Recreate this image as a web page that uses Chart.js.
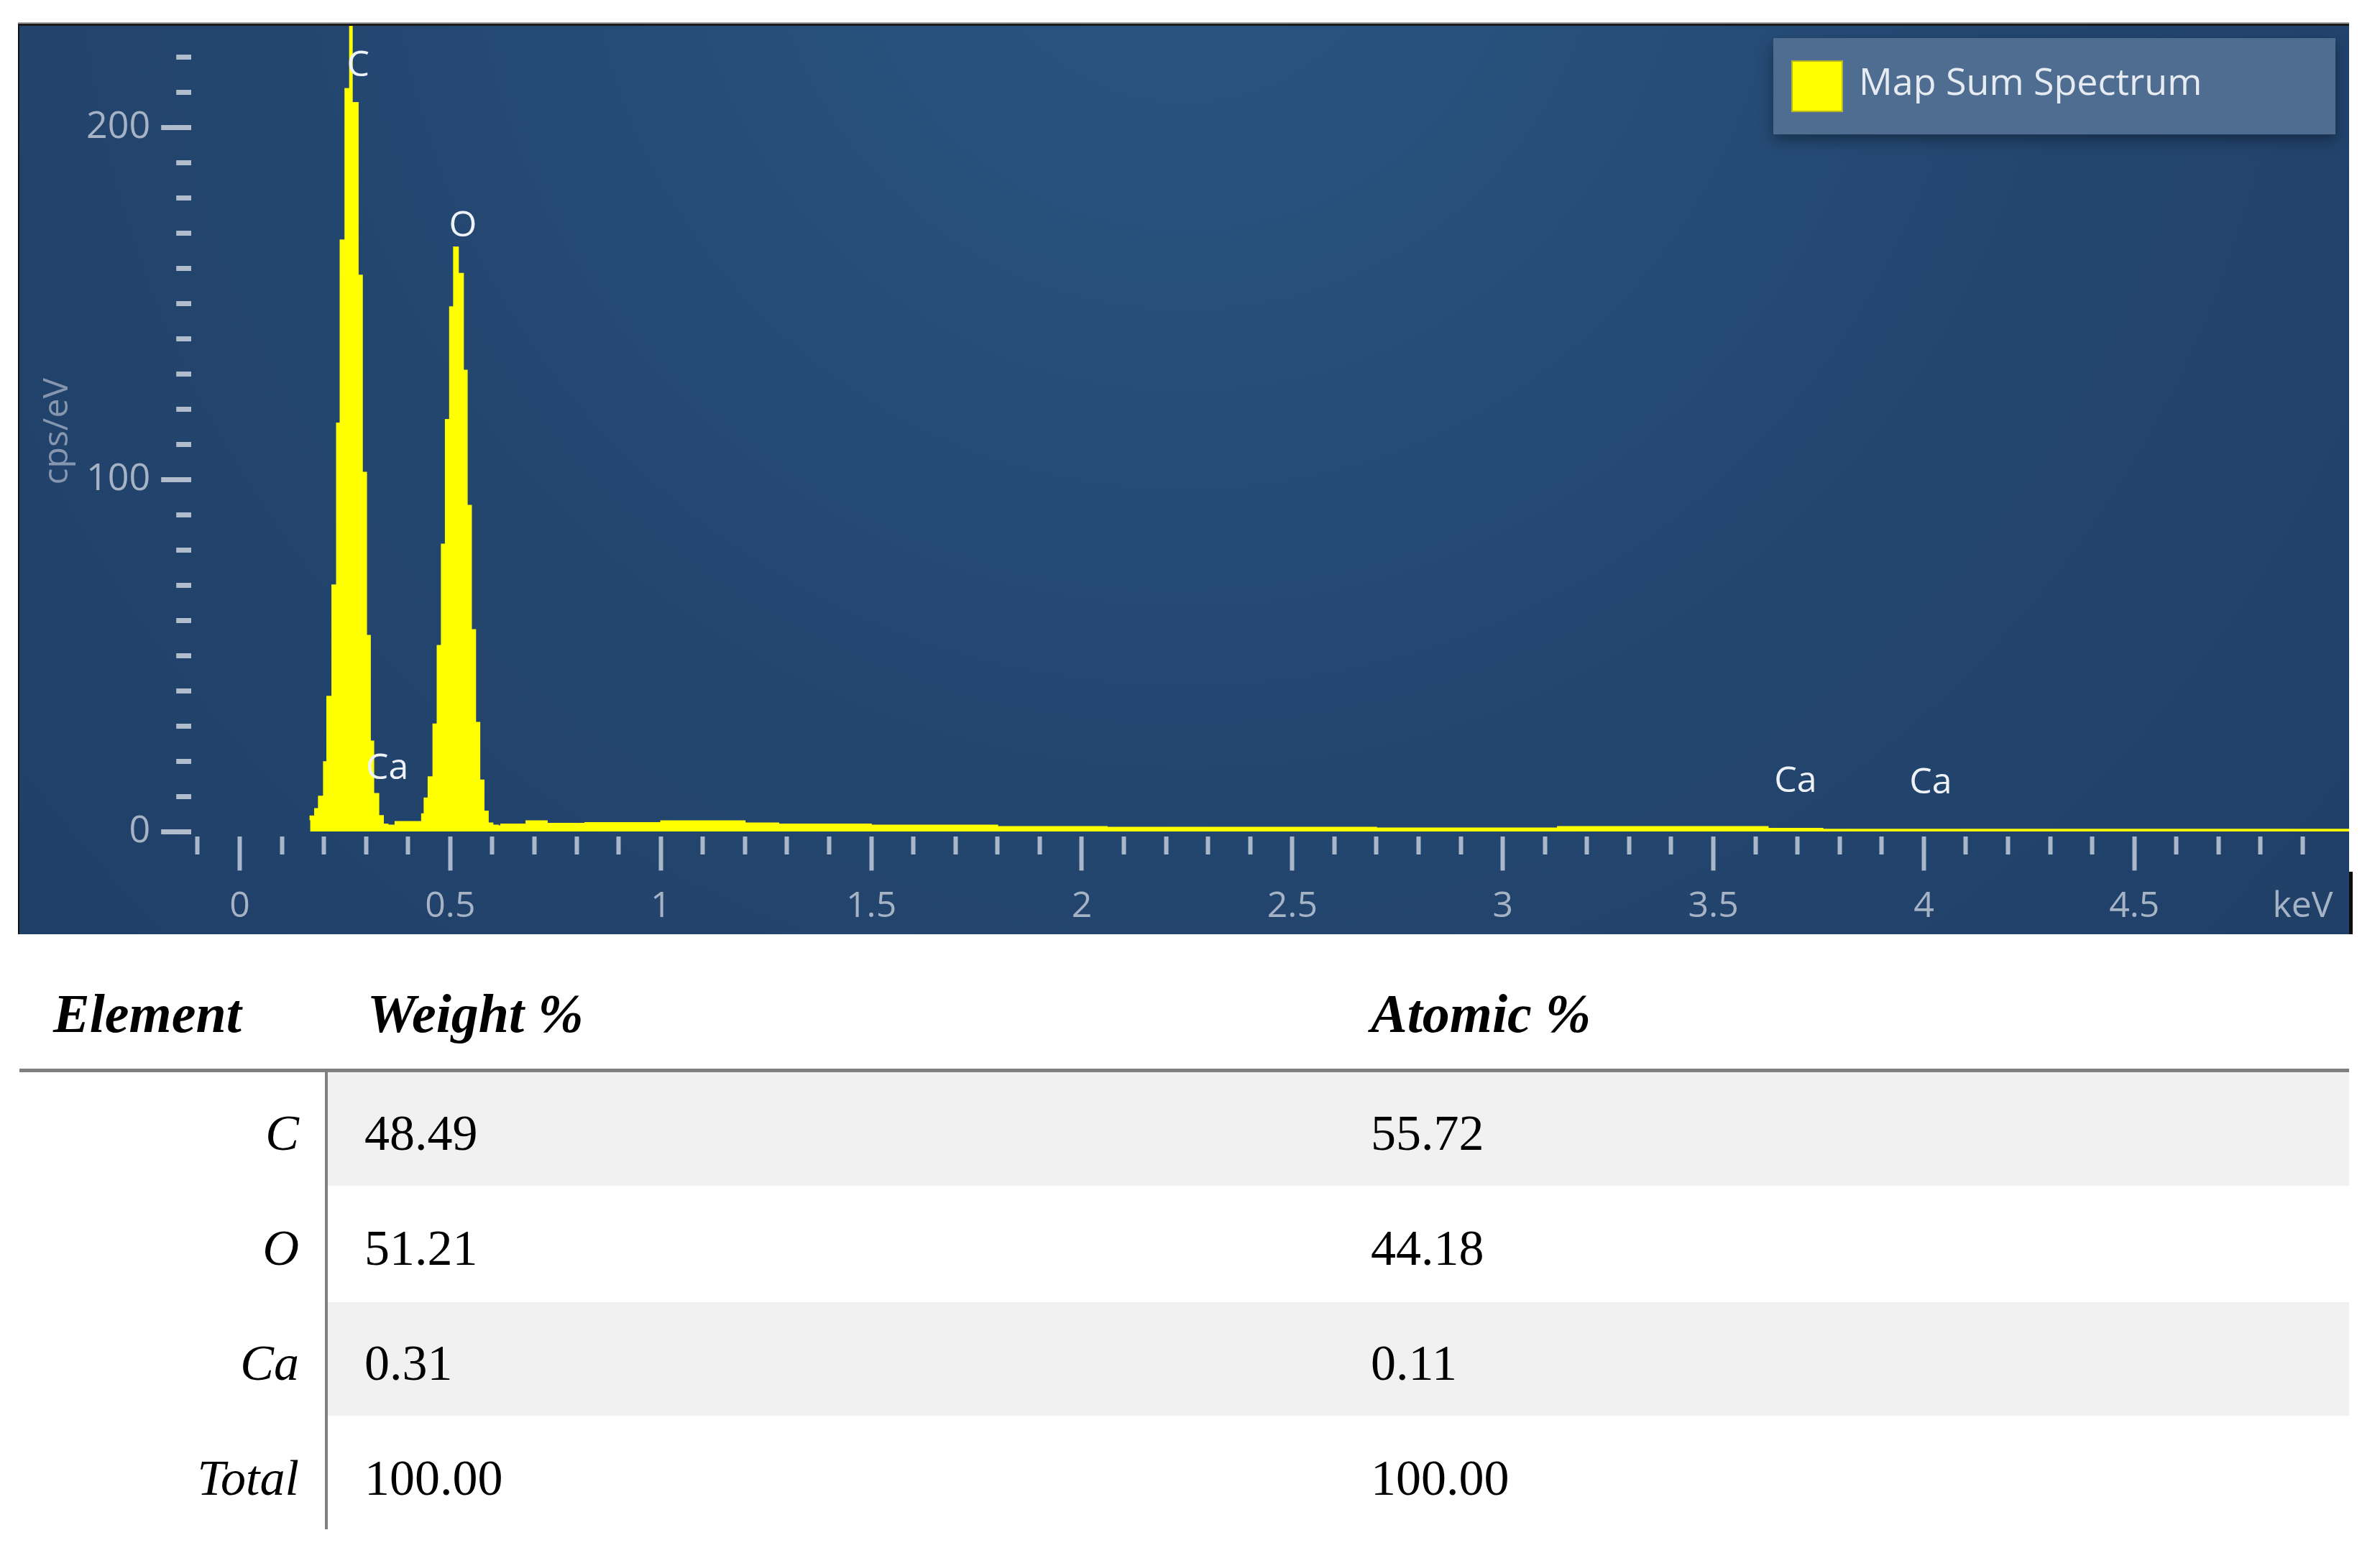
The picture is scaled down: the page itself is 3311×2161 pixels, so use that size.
<!DOCTYPE html>
<html>
<head>
<meta charset="utf-8">
<script src="https://cdn.jsdelivr.net/npm/chart.js@4.4.1/dist/chart.umd.min.js"></script>
<style>
  html, body { margin: 0; padding: 0; background: #fff; }
  body { width: 3311px; height: 2161px; position: relative; overflow: hidden; }
  #panel { position: absolute; left: 25px; top: 31px; border-top: 2px solid #9a9a9a; }
  #panel-inner { border-top: 3px solid #1b1b1b; border-left: 2px solid #111; }
  #edge { position: absolute; left: 3268px; top: 1213px; width: 5px; height: 87px; background: #0d0d0d; }
  canvas { display: block; }
  .cell { position: absolute; font-family: "Liberation Serif", "DejaVu Serif", serif; color: #000;
          white-space: nowrap; height: 100px; line-height: 100px; font-size: 70px; }
  .head { font-weight: bold; font-style: italic; font-size: 76px; }
  .rowname { font-style: italic; text-align: right; }
  .rule { position: absolute; background: #808080; }
  .shade { position: absolute; background: #f1f1f1; }
</style>
</head>
<body>
<div id="panel"><div id="panel-inner"><canvas id="spectrum" width="3241" height="1264"></canvas></div></div>
<div id="edge"></div>
<div id="table"></div>
<script>
// spectrum channels (left edge in keV) and counts (cps/eV)
const spectrumKeV = [
  0.167, 0.178, 0.187, 0.199, 0.207, 0.219, 0.230, 0.2385, 0.250, 0.261, 0.267, 0.281,
  0.291, 0.301, 0.310, 0.318, 0.330, 0.341, 0.352, 0.369, 0.432, 0.438, 0.4475, 0.459,
  0.469, 0.479, 0.4885, 0.4985, 0.508, 0.519, 0.531, 0.540, 0.550, 0.560, 0.570, 0.580,
  0.590, 0.601, 0.614, 0.62, 0.68, 0.73, 0.82, 1.00, 1.20, 1.28, 1.50, 1.80, 2.06, 2.70,
  3.13, 3.63, 3.76, 4.04, 5.01
];
const spectrumCps = [
  3.2, 4.4, 6.5, 10, 19.8, 38.4, 70, 116, 168, 211, 242, 207,
  158, 102, 55.7, 25.7, 10.8, 4.5, 2.1, 1.8, 2.8, 5.0, 9.5, 15.5,
  30.5, 52.8, 81.6, 117, 149, 166, 158.5, 131, 92.6, 57.3, 31, 14.6,
  5.8, 2.4, 1.8, 1.6, 2.1, 3.0, 2.3, 2.5, 3.0, 2.4, 2.1, 1.8, 1.4, 1.2,
  1.0, 1.4, 0.9, 0.6, 0.6
];

const peakLabels = ['C', 'O', 'Ca', 'Ca', 'Ca'];
const peakLabelKeV = [0.281, 0.530, 0.350, 3.695, 4.016];
const peakLabelCps = [217.5, 172, 17.8, 14.2, 13.8];

const xMajorTicks = [0, 0.5, 1, 1.5, 2, 2.5, 3, 3.5, 4, 4.5];
const xUnitTick = 4.9;
const xUnitLabel = 'keV';
const yMajorTicks = [0, 100, 200];

const xMin = -0.115, xMax = 5.01;
const yMin = -1.5, yMax = 228.8;

const xTickValues = [];
for (let i = -1; i <= 49; i++) xTickValues.push(Math.round(i) / 10);
const yTickValues = [];
for (let i = 0; i <= 22; i++) yTickValues.push(i * 10);

// table under the spectrum
const tableHeaders = ['Element', 'Weight %', 'Atomic %'];
const elements = ['C', 'O', 'Ca', 'Total'];
const weightPct = ['48.49', '51.21', '0.31', '100.00'];
const atomicPct = ['55.72', '44.18', '0.11', '100.00'];

function isMajorX(v) {
  return xMajorTicks.some(m => Math.abs(m - v) < 1e-6);
}

Chart.defaults.font.family = '"Open Sans", "Noto Sans", sans-serif';

const panelBackground = {
  id: 'panelBackground',
  beforeDraw(chart) {
    const c = chart.ctx, w = chart.width, h = chart.height;
    const g = c.createRadialGradient(w * 0.5, -h * 0.15, 40, w * 0.5, -h * 0.15, w * 0.75);
    g.addColorStop(0, '#2a5683');
    g.addColorStop(0.5, '#23466f');
    g.addColorStop(1, '#1f3e66');
    c.save();
    c.fillStyle = g;
    c.fillRect(0, 0, w, h);
    c.restore();
  }
};

const peakNames = {
  id: 'peakNames',
  afterDatasetsDraw(chart) {
    const c = chart.ctx, xs = chart.scales.x, ys = chart.scales.y;
    c.save();
    c.font = '50px "Open Sans"';
    c.fillStyle = '#eef2f7';
    c.textAlign = 'center';
    c.textBaseline = 'middle';
    peakLabels.forEach((name, i) => {
      c.fillText(name, xs.getPixelForValue(peakLabelKeV[i]), ys.getPixelForValue(peakLabelCps[i]));
    });
    c.restore();
  }
};

const legendBox = {
  id: 'legendBox',
  afterDraw(chart) {
    const c = chart.ctx;
    const ds = chart.data.datasets[0];
    const right = chart.chartArea.right - 19;
    const top = chart.chartArea.top + 17;
    const w = 782, h = 134;
    const left = right - w;
    c.save();
    c.shadowColor = 'rgba(0,0,0,0.35)';
    c.shadowBlur = 18;
    c.shadowOffsetY = 8;
    c.fillStyle = '#4e6d90';
    c.fillRect(left, top, w, h);
    c.restore();
    c.save();
    c.fillStyle = ds.backgroundColor;
    c.fillRect(left + 26, top + 32, 70, 70);
    c.strokeStyle = '#b8b820';
    c.lineWidth = 2;
    c.strokeRect(left + 26, top + 32, 70, 70);
    c.font = '52px "Open Sans"';
    c.fillStyle = '#e6ebf1';
    c.textBaseline = 'middle';
    c.fillText(ds.label, left + 119, top + 64);
    c.restore();
  }
};

function noPadding(axis) {
  axis.paddingTop = 0;
  axis.paddingBottom = 0;
  axis.paddingLeft = 0;
  axis.paddingRight = 0;
}

new Chart(document.getElementById('spectrum').getContext('2d'), {
  type: 'line',
  data: {
    datasets: [{
      label: 'Map Sum Spectrum',
      data: spectrumKeV.map((x, i) => ({ x: x, y: spectrumCps[i] })),
      stepped: 'after',
      fill: 'origin',
      borderColor: '#ffff00',
      backgroundColor: '#ffff00',
      borderWidth: 1.5,
      pointRadius: 0
    }]
  },
  options: {
    responsive: false,
    animation: false,
    layout: { padding: 0 },
    plugins: {
      legend: { display: false },
      tooltip: { enabled: false }
    },
    scales: {
      x: {
        type: 'linear',
        min: xMin,
        max: xMax,
        border: { display: false },
        grid: {
          drawOnChartArea: false,
          drawTicks: true,
          tickLength: 47,
          tickWidth: 6,
          tickColor: '#aab7c8',
          tickBorderDash: (c) => (c.tick && isMajorX(c.tick.value)) ? [] : [25, 100]
        },
        ticks: {
          autoSkip: false,
          maxRotation: 0,
          minRotation: 0,
          padding: 20,
          color: '#a6b3c5',
          font: { size: 50 },
          callback: (v) => {
            if (Math.abs(v - xUnitTick) < 1e-6) return xUnitLabel;
            return isMajorX(v) ? String(Math.round(v * 10) / 10) : '';
          }
        },
        afterBuildTicks: (axis) => { axis.ticks = xTickValues.map(v => ({ value: v })); },
        afterFit: (axis) => { axis.height = 135.6; noPadding(axis); }
      },
      y: {
        min: yMin,
        max: yMax,
        border: { display: false },
        grid: {
          drawOnChartArea: false,
          drawTicks: true,
          tickLength: 42,
          tickWidth: 7,
          tickColor: '#b1bdcd',
          tickBorderDash: (c) => (c.tick && yMajorTicks.includes(c.tick.value)) ? [] : [0, 21, 21, 100]
        },
        ticks: {
          autoSkip: false,
          padding: 15,
          color: '#a6b3c5',
          font: { size: 52 },
          callback: (v) => yMajorTicks.includes(v) ? String(v) : ''
        },
        title: {
          display: true,
          text: 'cps/eV',
          color: '#8596ae',
          font: { size: 48 },
          padding: { top: 25, bottom: 0 }
        },
        afterBuildTicks: (axis) => { axis.ticks = yTickValues.map(v => ({ value: v })); },
        afterFit: (axis) => { axis.width = 239.2; noPadding(axis); }
      }
    }
  },
  plugins: [panelBackground, peakNames, legendBox]
});

// table
const table = document.getElementById('table');
function addDiv(cls, style, text) {
  const d = document.createElement('div');
  d.className = cls;
  Object.assign(d.style, style);
  if (text !== undefined) d.textContent = text;
  table.appendChild(d);
}
const headLeft = [74, 511, 1907];
tableHeaders.forEach((t, i) => addDiv('cell head', { left: headLeft[i] + 'px', top: '1360px' }, t));
addDiv('rule', { left: '27px', top: '1487px', width: '3241px', height: '5px' });
const rowCenters = [1577, 1737, 1897, 2057];
elements.forEach((el, i) => {
  if (i % 2 === 0) addDiv('shade', { left: '456px', top: (1492 + 160 * i) + 'px', width: '2812px', height: '158px' });
  addDiv('cell rowname', { left: '0px', width: '416px', top: (rowCenters[i] - 50) + 'px' }, el);
  addDiv('cell', { left: '507px', top: (rowCenters[i] - 50) + 'px' }, weightPct[i]);
  addDiv('cell', { left: '1907px', top: (rowCenters[i] - 50) + 'px' }, atomicPct[i]);
});
addDiv('rule', { left: '452px', top: '1492px', width: '4px', height: '636px' });
</script>
</body>
</html>
